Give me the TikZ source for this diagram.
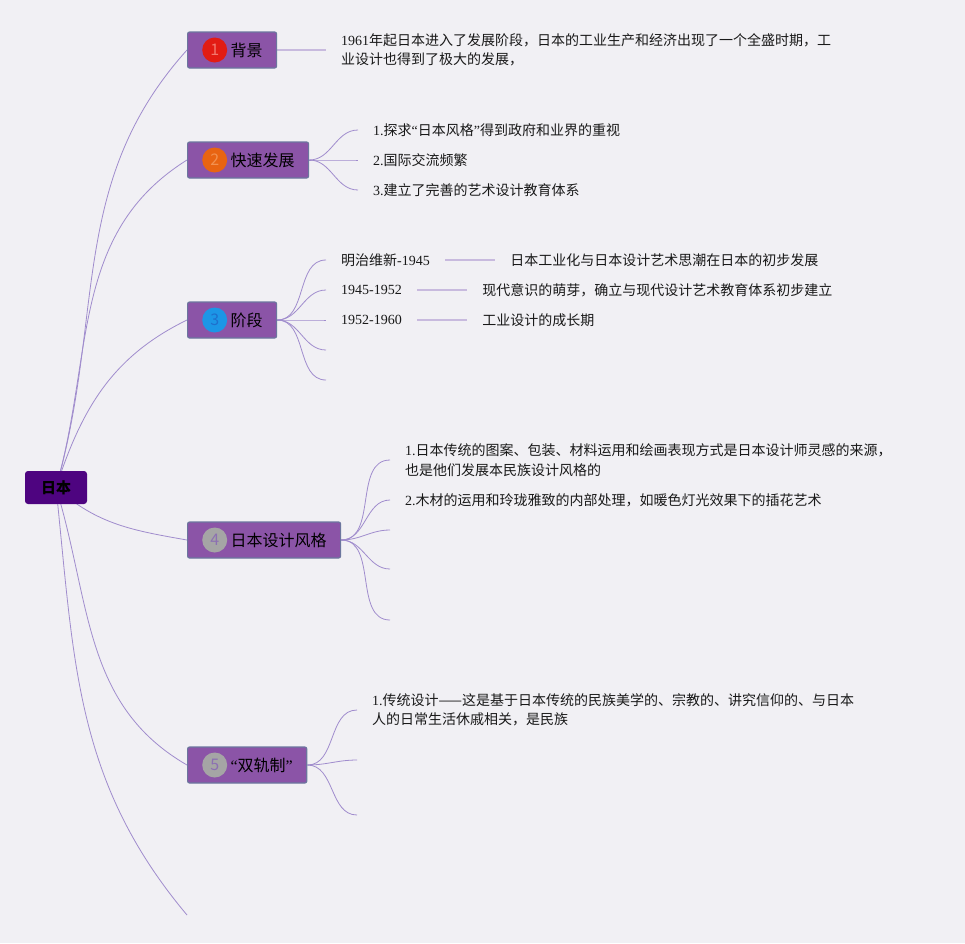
\documentclass[tikz,border=0pt]{standalone}
\usepackage{fontspec}
\setmainfont{Noto Sans CJK SC}
\newfontfamily\latfont{Liberation Serif}
\newcommand\lat[1]{{\latfont #1}}
\usepackage{xcolor}
\usepackage{tikz}
\usetikzlibrary{positioning, backgrounds}

\definecolor{bgcol}{RGB}{241,240,244}
\definecolor{rootfill}{RGB}{78,4,128}
\definecolor{branchfill}{RGB}{139,84,167}
\definecolor{branchline}{RGB}{108,118,158}
\definecolor{edgecol}{RGB}{160,140,205}
\definecolor{stubcol}{RGB}{200,186,222}
\definecolor{badgered}{RGB}{226,28,20}
\definecolor{badgeredtxt}{RGB}{242,120,110}
\definecolor{badgeorange}{RGB}{232,100,18}
\definecolor{badgeorangetxt}{RGB}{242,145,80}
\definecolor{badgeblue}{RGB}{28,150,230}
\definecolor{badgebluetxt}{RGB}{30,112,205}
\definecolor{badgegray}{RGB}{165,165,165}
\definecolor{badgegraytxt}{RGB}{140,112,178}

\begin{document}
\begin{tikzpicture}[x=1pt, y=-1pt,
    topic/.style={fill=rootfill, rounded corners=3pt, minimum width=62pt, minimum height=33pt,
      font=\fontsize{15}{15}\selectfont\bfseries, text=black},
    branch/.style={draw=branchline, line width=1.2pt, fill=branchfill, rounded corners=2pt,
      minimum height=36pt, inner xsep=14pt, inner ysep=0pt, anchor=west,
      font=\fontsize{16}{16}\selectfont, text=black},
    badge/.style 2 args={circle, fill=#1, text=#2, minimum size=25pt, inner sep=0pt,
      font=\fontsize{16}{16}\selectfont},
    leaf/.style={anchor=west, align=left, inner xsep=15pt, inner ysep=0pt,
      font=\fontsize{14}{19.5}\selectfont, text=black!90},
    twig/.style={draw=edgecol, line width=0.8pt},
    stub/.style={draw=stubcol, line width=1.8pt}]
    \useasboundingbox (0,0) rectangle (965,943);
    \begin{scope}[on background layer]
      \fill[bgcol] (0,0) rectangle (965,943);
    \end{scope}

    % Root
    \node[topic] (root) at (56,487.5) {日本};

    % Branches
    \node[branch] (b1) at (187,50)  {\hspace*{29pt}背景};
    \node[branch] (b2) at (187,160) {\hspace*{29pt}快速发展};
    \node[branch] (b3) at (187,320) {\hspace*{29pt}阶段};
    \node[branch] (b4) at (187,540) {\hspace*{29pt}日本设计风格};
    \node[branch] (b5) at (187,765) {\hspace*{29pt}\lat{“}双轨制\lat{”}};
    \coordinate (e6) at (187,915);

    % Badges
    \node[badge={badgered}{badgeredtxt}, right=15pt of b1.west]       (n1) {1};
    \node[badge={badgeorange}{badgeorangetxt}, right=15pt of b2.west] (n2) {2};
    \node[badge={badgeblue}{badgebluetxt}, right=15pt of b3.west]     (n3) {3};
    \node[badge={badgegray}{badgegraytxt}, right=15pt of b4.west]     (n4) {4};
    \node[badge={badgegray}{badgegraytxt}, right=15pt of b5.west]     (n5) {5};

    % Topics of branch 1 and 2
    \node[leaf] (t1) at (326,50) {\lat{1961}年起日本进入了发展阶段，日本的工业生产和经济出现了一个全盛时期，工\\业设计也得到了极大的发展，};
    \node[leaf] (t21) at (358,130) {\lat{1.}探求\lat{“}日本风格\lat{”}得到政府和业界的重视};
    \node[leaf] (t22) at (358,160) {\lat{2.}国际交流频繁};
    \node[leaf] (t23) at (358,190) {\lat{3.}建立了完善的艺术设计教育体系};

    % Periods of branch 3
    \node[leaf] (y31) at (326,260) {明治维新\lat{-1945}};
    \node[leaf] (y32) at (326,290) {\lat{1945-1952}};
    \node[leaf] (y33) at (326,320) {\lat{1952-1960}};
    \node[leaf, right=50pt of y31] (d31) {日本工业化与日本设计艺术思潮在日本的初步发展};
    \node[leaf, right=50pt of y32] (d32) {现代意识的萌芽，确立与现代设计艺术教育体系初步建立};
    \node[leaf, right=50pt of y33] (d33) {工业设计的成长期};
    \coordinate (e34) at (326,350);
    \coordinate (e35) at (326,380);

    % Topics of branch 4
    \node[leaf] (t41) at (390,460) {\lat{1.}日本传统的图案、包装、材料运用和绘画表现方式是日本设计师灵感的来源，\\也是他们发展本民族设计风格的};
    \node[leaf] (t42) at (390,500) {\lat{2.}木材的运用和玲珑雅致的内部处理，如暖色灯光效果下的插花艺术};
    \coordinate (e43) at (390,530);
    \coordinate (e44) at (390,569);
    \coordinate (e45) at (390,620);

    % Topics of branch 5
    \node[leaf] (t51) at (357,710) {\lat{1.}传统设计——这是基于日本传统的民族美学的、宗教的、讲究信仰的、与日本\\人的日常生活休戚相关，是民族};
    \coordinate (e52) at (357,760);
    \coordinate (e53) at (357,815);

    % Connectors
    \begin{scope}[on background layer]
      \draw[twig] (root.center) to[out=74, in=228] (b1.west);
      \draw[twig] (root.center) to[out=74, in=212] (b2.west);
      \draw[twig] (root.center) to[out=72, in=206] (b3.west);
      \draw[twig] (root.center) to[out=-42, in=170] (b4.west);
      \draw[twig] (root.center) to[out=-73, in=150] (b5.west);
      \draw[twig] (root.center) to[out=-84, in=130] (e6);

      \draw[stub] (b1.east) -- (t1.west);
      \foreach \t in {t21,t22,t23}
        \draw[twig] (b2.east) to[out=0, in=180] (\t.west);
      \foreach \t in {y31.west,y32.west,y33.west,e34,e35}
        \draw[twig] (b3.east) to[out=0, in=180] (\t);
      \foreach \y/\d in {y31/d31,y32/d32,y33/d33}
        \draw[stub] (\y.east) -- (\d.west);
      \foreach \t in {t41.west,t42.west,e43,e44,e45}
        \draw[twig] (b4.east) to[out=0, in=180] (\t);
      \foreach \t in {t51.west,e52,e53}
        \draw[twig] (b5.east) to[out=0, in=180] (\t);
    \end{scope}
\end{tikzpicture}
\end{document}
